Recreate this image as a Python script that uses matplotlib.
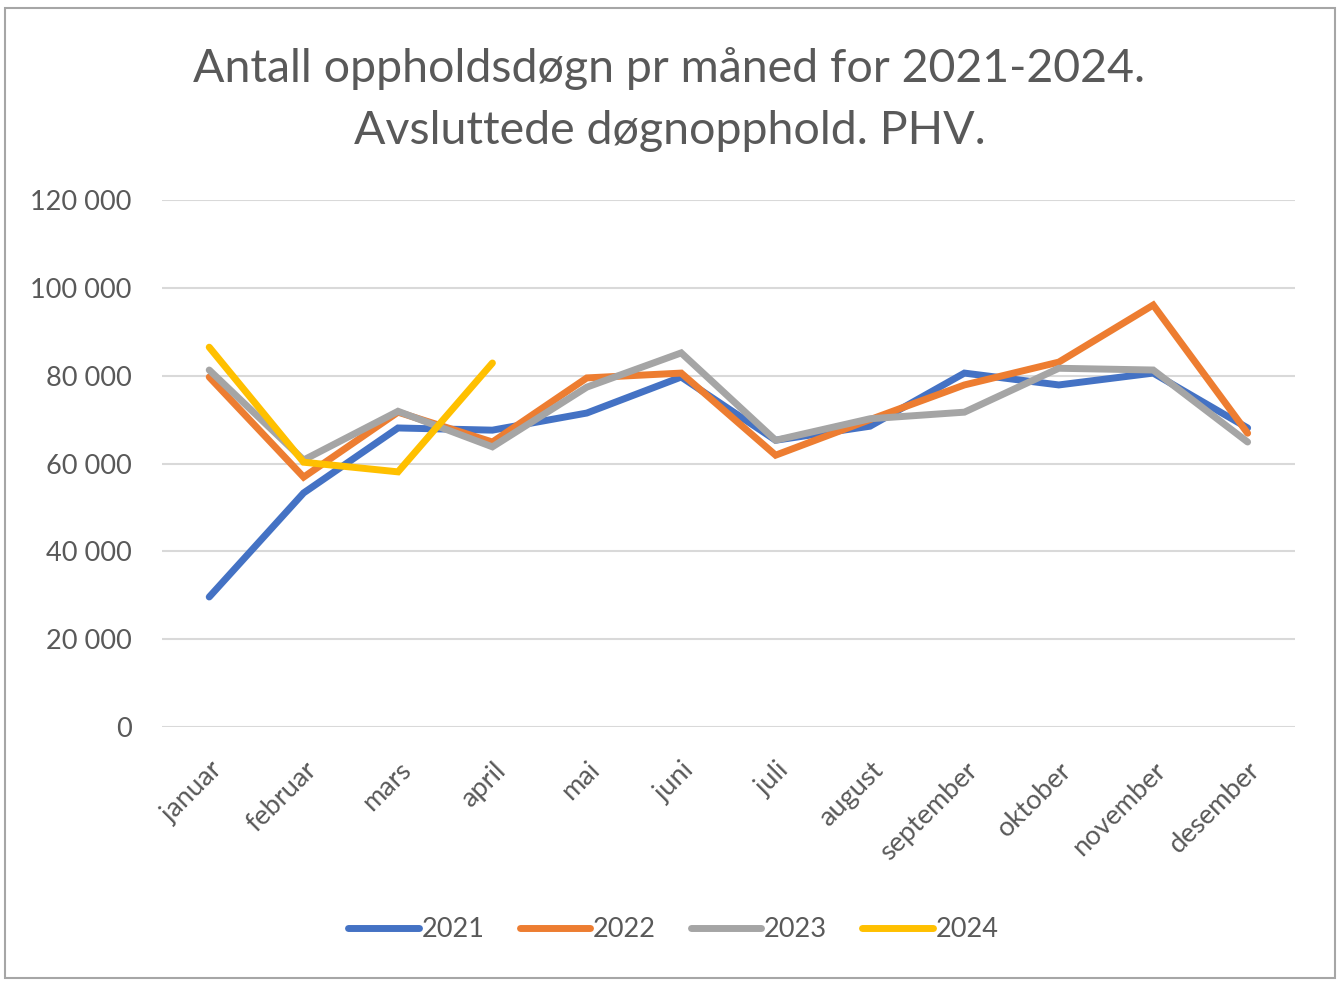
import matplotlib.pyplot as plt
from matplotlib.patches import Rectangle

plt.rcParams['font.family'] = ['Lato', 'DejaVu Sans']

# Data
months = ["januar", "februar", "mars", "april", "mai", "juni", "juli",
          "august", "september", "oktober", "november", "desember"]
y2021 = [29600, 53300, 68100, 67600, 71500, 79700, 65300, 68500, 80600, 77900, 80600, 68100]
y2022 = [79700, 56900, 71700, 64900, 79500, 80600, 61900, 70000, 77900, 83100, 96100, 66900]
y2023 = [81300, 60800, 71900, 63800, 77400, 85200, 65300, 70200, 71700, 81700, 81300, 64900]
y2024 = [86500, 60300, 58100, 82900]
series = [("2021", y2021, "#4472C4"), ("2022", y2022, "#ED7D31"),
          ("2023", y2023, "#A5A5A5"), ("2024", y2024, "#FFC000")]
yticks = [0, 20000, 40000, 60000, 80000, 100000, 120000]

fig = plt.figure(figsize=(13.39, 9.81), dpi=100)
ax = fig.add_axes([0.121, 0.259, 0.846, 0.537])

for label, vals, color in series:
    ax.plot(range(len(vals)), vals, color=color, lw=5, label=label,
            solid_capstyle='round', solid_joinstyle='miter')

ax.set_xlim(-0.5, 11.5)
ax.set_ylim(0, 120000)
ax.set_yticks(yticks)
ax.set_yticklabels([f"{v:,}".replace(",", " ") for v in yticks])
ax.set_xticks(range(len(months)))
ax.set_xticklabels(months, rotation=45, ha='right', rotation_mode='anchor')
ax.tick_params(axis='both', length=0, labelsize=19.5, colors='#595959')
ax.tick_params(axis='y', pad=22)
ax.tick_params(axis='x', pad=22)
ax.grid(axis='y', color='#D9D9D9', lw=1.5)
ax.set_axisbelow(True)
for s in ax.spines.values():
    s.set_visible(False)

fig.suptitle("Antall oppholdsdøgn pr måned for 2021-2024.\nAvsluttede døgnopphold. PHV.",
             y=0.952, fontsize=33.5, color='#595959', linespacing=1.6)

fig.legend(loc='center', bbox_to_anchor=(0.503, 0.052), ncol=4, frameon=False,
           fontsize=19.5, labelcolor='#595959', handlelength=2.6, handletextpad=0.1,
           columnspacing=1.3)

fig.patches.append(Rectangle((5 / 1339, 3 / 981), 1330 / 1339, 970 / 981,
                             transform=fig.transFigure, fill=False,
                             edgecolor='#A6A6A6', lw=1.5))

plt.savefig("out.png", dpi=100)
